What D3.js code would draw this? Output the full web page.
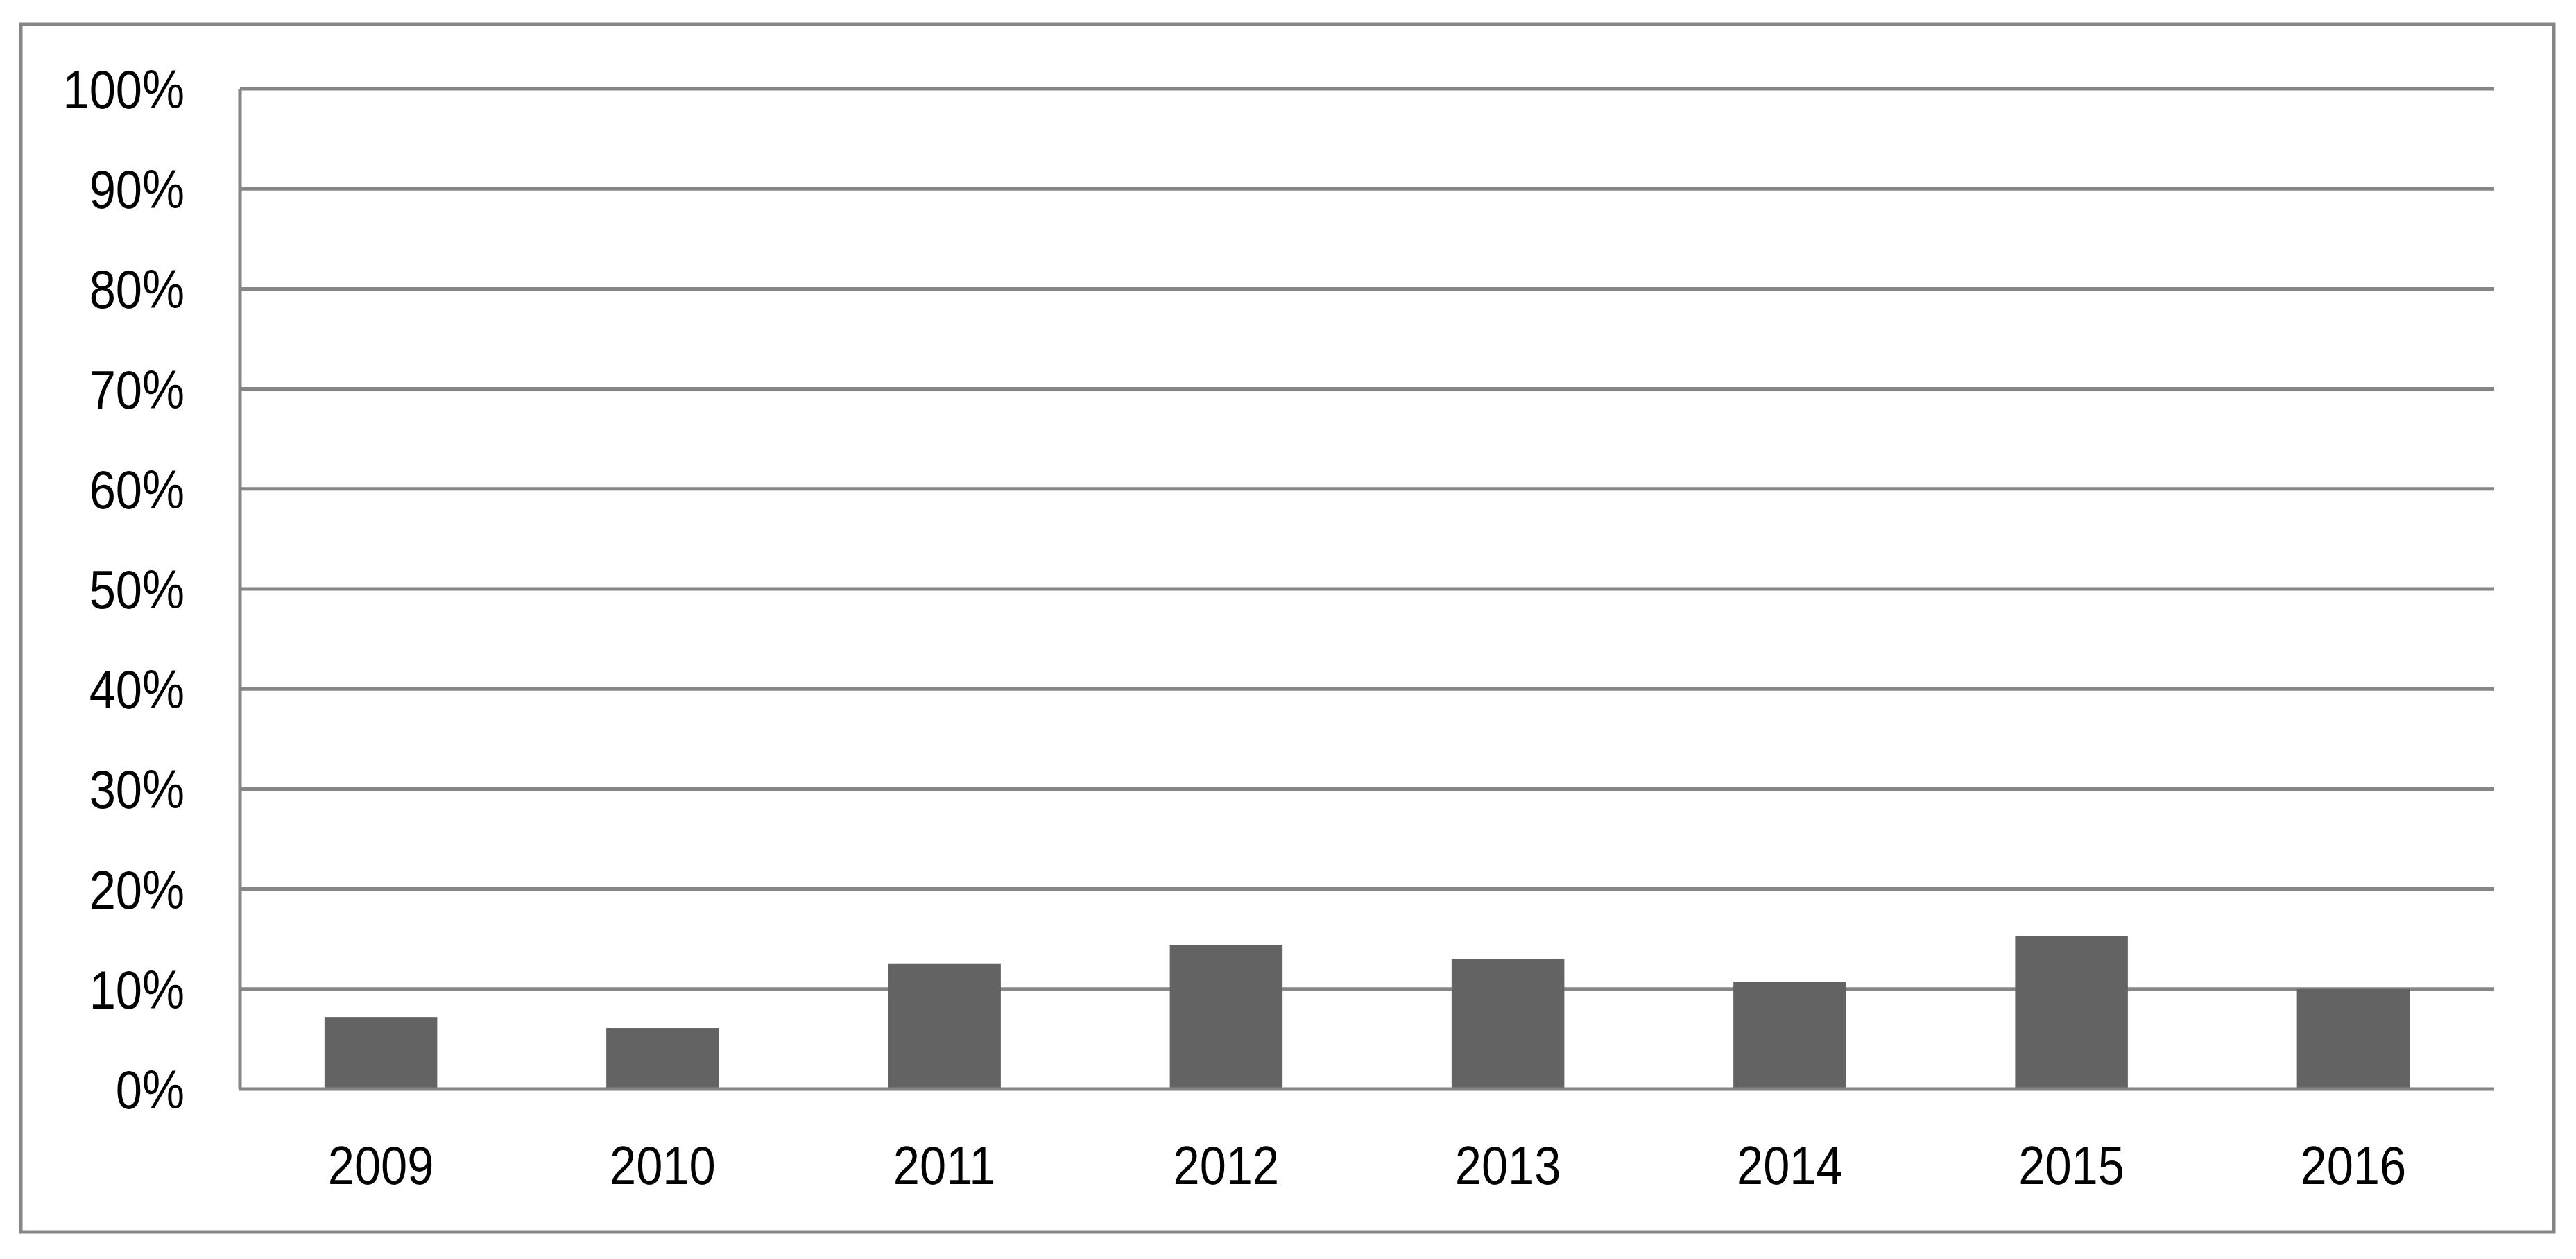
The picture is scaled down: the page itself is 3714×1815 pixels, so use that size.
<!DOCTYPE html>
<html>
<head>
<meta charset="utf-8">
<script src="https://cdn.jsdelivr.net/npm/d3@7"></script>
<style>
  body { margin: 0; background: #fff; }
  text { font-family: "Liberation Sans", sans-serif; }
</style>
</head>
<body>
<svg id="chart"></svg>
<script>
// Chart data
const years = ["2009", "2010", "2011", "2012", "2013", "2014", "2015", "2016"];
const shares = [0.072, 0.061, 0.125, 0.144, 0.130, 0.107, 0.153, 0.100];
const yTicks = [0, 0.1, 0.2, 0.3, 0.4, 0.5, 0.6, 0.7, 0.8, 0.9, 1.0];

const width = 3714;
const height = 1815;
const margin = { top: 128, right: 118, bottom: 245, left: 346 };
const gridColor = "#868686";
const squeeze = 0.88; // narrow the glyphs to look like the condensed original font

const svg = d3.select("#chart")
    .attr("width", width)
    .attr("height", height);

// Outer frame
svg.append("rect")
    .attr("x", 30).attr("y", 35)
    .attr("width", 3652).attr("height", 1741)
    .attr("fill", "none")
    .attr("stroke", gridColor)
    .attr("stroke-width", 5);

const x = d3.scaleBand()
    .domain(years)
    .range([margin.left, width - margin.right])
    .paddingInner(0.6)
    .paddingOuter(0.3);

const y = d3.scaleLinear()
    .domain([0, 1])
    .range([height - margin.bottom, margin.top]);

// Gridlines
svg.append("g")
    .selectAll("line")
    .data(yTicks.slice(1))
    .enter()
    .append("line")
    .attr("x1", margin.left)
    .attr("x2", width - margin.right)
    .attr("y1", d => y(d))
    .attr("y2", d => y(d))
    .attr("stroke", gridColor)
    .attr("stroke-width", 5);

// Bars
svg.append("g")
    .selectAll("rect")
    .data(years)
    .enter()
    .append("rect")
    .attr("x", d => x(d))
    .attr("width", x.bandwidth())
    .attr("y", (d, i) => y(shares[i]))
    .attr("height", (d, i) => y(0) - y(shares[i]))
    .attr("fill", "#636363");

// Axes lines
svg.append("line")
    .attr("x1", margin.left).attr("x2", margin.left)
    .attr("y1", margin.top).attr("y2", y(0))
    .attr("stroke", gridColor).attr("stroke-width", 5);
svg.append("line")
    .attr("x1", margin.left - 2).attr("x2", width - margin.right)
    .attr("y1", y(0)).attr("y2", y(0))
    .attr("stroke", gridColor).attr("stroke-width", 5);

// Y labels
svg.append("g")
    .selectAll("text")
    .data(yTicks)
    .enter()
    .append("text")
    .attr("transform", d => `translate(266,${y(d)}) scale(${squeeze},1)`)
    .attr("dy", "0.36em")
    .attr("text-anchor", "end")
    .attr("font-size", "78px")
    .attr("fill", "#000")
    .text(d => d3.format(".0%")(d));

// X labels
svg.append("g")
    .selectAll("text")
    .data(years)
    .enter()
    .append("text")
    .attr("transform", d => `translate(${x(d) + x.bandwidth() / 2},1707) scale(${squeeze},1)`)
    .attr("text-anchor", "middle")
    .attr("font-size", "78px")
    .attr("fill", "#000")
    .text(d => d);
</script>
</body>
</html>
